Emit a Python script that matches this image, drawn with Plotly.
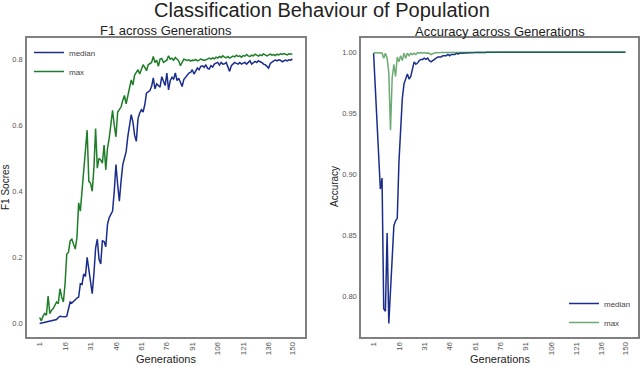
import plotly.graph_objects as go

# generaciones 1..150
generations = list(range(1, 151))

f1_median = [
    0.000, 0.001, 0.002, 0.003, 0.004, 0.005, 0.006, 0.008, 0.009, 0.010,
    0.012, 0.018, 0.022, 0.021, 0.020, 0.020, 0.022, 0.045, 0.065, 0.062,
    0.066, 0.072, 0.077, 0.080, 0.120, 0.118, 0.150, 0.142, 0.200, 0.165,
    0.120, 0.090, 0.150, 0.228, 0.255, 0.195, 0.180, 0.250, 0.248, 0.232,
    0.300, 0.320, 0.330, 0.340, 0.400, 0.481, 0.420, 0.370, 0.430, 0.480,
    0.500, 0.520, 0.566, 0.600, 0.632, 0.610, 0.570, 0.551, 0.620, 0.637,
    0.647, 0.640, 0.662, 0.697, 0.700, 0.705, 0.717, 0.743, 0.710, 0.725,
    0.720, 0.715, 0.747, 0.730, 0.720, 0.758, 0.707, 0.735, 0.745, 0.740,
    0.758, 0.735, 0.742, 0.730, 0.717, 0.738, 0.745, 0.750, 0.758, 0.760,
    0.768, 0.755, 0.765, 0.773, 0.768, 0.778, 0.780, 0.775, 0.783, 0.772,
    0.770, 0.780, 0.776, 0.785, 0.788, 0.790, 0.782, 0.790, 0.785, 0.786,
    0.790, 0.775, 0.763, 0.780, 0.785, 0.790, 0.787, 0.785, 0.790, 0.785,
    0.788, 0.790, 0.785, 0.790, 0.795, 0.785, 0.790, 0.793, 0.790, 0.795,
    0.792, 0.790, 0.785, 0.783, 0.778, 0.773, 0.787, 0.792, 0.795, 0.797,
    0.795, 0.798, 0.797, 0.792, 0.794, 0.797, 0.795, 0.798, 0.797, 0.801,
]

f1_max = [
    0.018, 0.008, 0.022, 0.030, 0.025, 0.083, 0.030, 0.040, 0.045, 0.055,
    0.065, 0.060, 0.105, 0.080, 0.065, 0.120, 0.210, 0.215, 0.250, 0.255,
    0.240, 0.225, 0.260, 0.365, 0.340, 0.400, 0.470, 0.520, 0.585, 0.430,
    0.425, 0.400, 0.470, 0.590, 0.470, 0.500, 0.495, 0.485, 0.540, 0.465,
    0.530, 0.560, 0.600, 0.645, 0.600, 0.565, 0.640, 0.650, 0.655, 0.675,
    0.690, 0.665, 0.692, 0.717, 0.737, 0.722, 0.752, 0.760, 0.768, 0.755,
    0.770, 0.783, 0.775, 0.765, 0.783, 0.787, 0.790, 0.808, 0.790, 0.797,
    0.778, 0.800, 0.802, 0.790, 0.795, 0.797, 0.810, 0.800, 0.803, 0.797,
    0.805, 0.800, 0.795, 0.780, 0.790, 0.800, 0.798, 0.796, 0.798, 0.794,
    0.797, 0.796, 0.799, 0.795, 0.797, 0.800, 0.798, 0.796, 0.798, 0.800,
    0.803, 0.800, 0.804, 0.801, 0.806, 0.803, 0.808, 0.805, 0.810, 0.806,
    0.804, 0.808, 0.803, 0.806, 0.809, 0.807, 0.812, 0.808, 0.810, 0.806,
    0.811, 0.809, 0.814, 0.810, 0.808, 0.812, 0.810, 0.815, 0.811, 0.809,
    0.813, 0.811, 0.816, 0.812, 0.810, 0.813, 0.815, 0.812, 0.814, 0.811,
    0.815, 0.813, 0.816, 0.814, 0.817, 0.815, 0.813, 0.816, 0.815, 0.815,
]

acc_median = [
    0.9990, 0.9700, 0.9350, 0.9050, 0.8880, 0.8970, 0.7900, 0.7880, 0.8520, 0.7780,
    0.8050, 0.8370, 0.8580, 0.8620, 0.8640, 0.9100, 0.9400, 0.9620, 0.9740, 0.9790,
    0.9820, 0.9780, 0.9800, 0.9860, 0.9920, 0.9900, 0.9910, 0.9930, 0.9940, 0.9940,
    0.9950, 0.9940, 0.9950, 0.9930, 0.9920, 0.9930, 0.9940, 0.9950, 0.9960, 0.9960,
    0.9960, 0.9970, 0.9970, 0.9970, 0.9980, 0.9970, 0.9980, 0.9980, 0.9980, 0.9990,
    0.9985, 0.9990, 0.9990, 0.9992, 0.9994, 0.9993, 0.9995, 0.9995, 0.9996, 0.9996,
    0.9996, 0.9997, 0.9996, 0.9997, 0.9997, 0.9998, 0.9997, 0.9998, 0.9998, 0.9998,
    0.9998, 0.9998, 0.9999, 0.9998, 0.9999, 0.9999, 0.9999, 0.9999, 0.9999, 0.9999,
    0.9999, 0.9999, 0.9999, 0.9999, 0.9999, 0.9999, 0.9999, 0.9999, 0.9999, 0.9999,
    0.9999, 0.9999, 0.9999, 0.9999, 0.9999, 0.9999, 0.9999, 0.9999, 0.9999, 0.9999,
    0.9999, 0.9999, 0.9999, 0.9999, 0.9999, 0.9999, 0.9999, 0.9999, 0.9999, 0.9999,
    0.9999, 0.9999, 0.9999, 0.9999, 0.9999, 0.9999, 0.9999, 0.9999, 0.9999, 0.9999,
    0.9999, 0.9999, 0.9999, 0.9999, 0.9999, 0.9999, 0.9999, 0.9999, 0.9999, 0.9999,
    0.9999, 0.9999, 0.9999, 0.9999, 0.9999, 0.9999, 0.9999, 0.9999, 0.9999, 0.9999,
    0.9999, 0.9999, 0.9999, 0.9999, 0.9999, 0.9999, 0.9999, 0.9999, 0.9999, 0.9999,
]

acc_max = [
    0.9995, 0.9995, 0.9994, 0.9993, 0.9994, 0.9993, 0.9950, 0.9990, 0.9950, 0.9830,
    0.9360, 0.9790, 0.9900, 0.9800, 0.9960, 0.9920, 0.9970, 0.9930, 0.9990, 0.9950,
    0.9990, 0.9970, 0.9990, 0.9980, 0.9990, 0.9980, 0.9995, 0.9990, 0.9995, 0.9990,
    0.9995, 0.9990, 0.9992, 0.9990, 0.9980, 0.9990, 0.9993, 0.9995, 0.9994, 0.9996,
    0.9996, 0.9997, 0.9997, 0.9997, 0.9998, 0.9997, 0.9998, 0.9998, 0.9998, 0.9999,
    0.9999, 0.9999, 0.9999, 0.9999, 0.9999, 0.9999, 0.9999, 0.9999, 0.9999, 0.9999,
    0.9999, 0.9999, 0.9999, 0.9999, 0.9999, 0.9999, 0.9999, 0.9999, 0.9999, 0.9999,
    0.9999, 0.9999, 0.9999, 0.9999, 0.9999, 0.9999, 0.9999, 0.9999, 0.9999, 0.9999,
    0.9999, 0.9999, 0.9999, 0.9999, 0.9999, 0.9999, 0.9999, 0.9999, 0.9999, 0.9999,
    0.9999, 0.9999, 0.9999, 0.9999, 0.9999, 0.9999, 0.9999, 0.9999, 0.9999, 0.9999,
    0.9999, 0.9999, 0.9999, 0.9999, 0.9999, 0.9999, 0.9999, 0.9999, 0.9999, 0.9999,
    0.9999, 0.9999, 0.9999, 0.9999, 0.9999, 0.9999, 0.9999, 0.9999, 0.9999, 0.9999,
    0.9999, 0.9999, 0.9999, 0.9999, 0.9999, 0.9999, 0.9999, 0.9999, 0.9999, 0.9999,
    0.9999, 0.9999, 0.9999, 0.9999, 0.9999, 0.9999, 0.9999, 0.9999, 0.9999, 0.9999,
    0.9999, 0.9999, 0.9999, 0.9999, 0.9999, 0.9999, 0.9999, 0.9999, 0.9999, 0.9999,
]

gen_ticks = [1, 16, 31, 46, 61, 76, 91, 106, 121, 136, 150]

AZUL = "#1a2d8c"
VERDE = "#1e7d28"
VERDE_CLARO = "rgba(30,125,40,0.65)"
FUENTE = "Liberation Sans, Arial, sans-serif"

ANCHO, ALTO = 640, 366


def px_x(p):
    return p / ANCHO


def px_y(p):
    return 1 - p / ALTO


fig = go.Figure()

# panel izquierdo: F1
fig.add_trace(go.Scatter(x=generations, y=f1_median, mode="lines", name="median",
                         line=dict(color=AZUL, width=1.5), xaxis="x", yaxis="y", legend="legend"))
fig.add_trace(go.Scatter(x=generations, y=f1_max, mode="lines", name="max",
                         line=dict(color=VERDE, width=1.5), xaxis="x", yaxis="y", legend="legend"))

# panel derecho: accuracy
fig.add_trace(go.Scatter(x=generations, y=acc_median, mode="lines", name="median",
                         line=dict(color=AZUL, width=1.5), xaxis="x2", yaxis="y2", legend="legend2"))
fig.add_trace(go.Scatter(x=generations, y=acc_max, mode="lines", name="max",
                         line=dict(color=VERDE_CLARO, width=1.5), xaxis="x2", yaxis="y2", legend="legend2"))

eje_x = dict(range=[-6.45, 157.45], tickvals=gen_ticks, tickangle=-90,
             showgrid=False, zeroline=False, showline=True, mirror=True,
             linecolor="#808080", linewidth=1.5, ticks="",
             tickfont=dict(size=8, color="#555555", family=FUENTE))
eje_y = dict(showgrid=False, zeroline=False, showline=True, mirror=True,
             linecolor="#808080", linewidth=1.5, ticks="", ticklabelstandoff=1,
             tickfont=dict(size=7.5, color="#555555", family=FUENTE))

dom_y = [px_y(337), px_y(38)]

fig.update_layout(
    width=ANCHO, height=ALTO,
    margin=dict(l=0, r=0, t=0, b=0),
    paper_bgcolor="white", plot_bgcolor="white",
    font=dict(family=FUENTE, color="#222222"),
    xaxis=dict(domain=[px_x(27), px_x(305)], anchor="y", **eje_x),
    yaxis=dict(domain=dom_y, anchor="x", range=[-0.041, 0.864],
               tickvals=[0.0, 0.2, 0.4, 0.6, 0.8], tickformat=".1f", **eje_y),
    xaxis2=dict(domain=[px_x(361), px_x(638)], anchor="y2", **eje_x),
    yaxis2=dict(domain=dom_y, anchor="x2", range=[0.767, 1.0115],
                tickvals=[0.80, 0.85, 0.90, 0.95, 1.00], tickformat=".2f", **eje_y),
    legend=dict(x=px_x(29), y=px_y(38), xanchor="left", yanchor="top",
                bgcolor="rgba(0,0,0,0)", itemwidth=30, tracegroupgap=0,
                font=dict(size=8, color="#444444")),
    legend2=dict(x=px_x(636), y=px_y(337), xanchor="right", yanchor="bottom",
                 bgcolor="rgba(0,0,0,0)", itemwidth=30, tracegroupgap=0,
                 font=dict(size=8, color="#444444")),
    showlegend=True,
)

textos = [
    dict(text="Classification Behaviour of Population", x=322, y=10, size=20),
    dict(text="F1 across Generations", x=166, y=31, size=13),
    dict(text="Accuracy across Generations", x=500, y=32, size=13),
    dict(text="Generations", x=166, y=359, size=11),
    dict(text="Generations", x=500, y=359, size=11),
]
for t in textos:
    fig.add_annotation(text=t["text"], x=px_x(t["x"]), y=px_y(t["y"]), xref="paper", yref="paper",
                       xanchor="center", yanchor="middle", showarrow=False,
                       font=dict(size=t["size"], color="#222222", family=FUENTE))

# titulos de eje y, rotados
fig.add_annotation(text="F1 Socres", x=px_x(5), y=px_y(187), xref="paper", yref="paper",
                   textangle=-90, showarrow=False, xanchor="center", yanchor="middle",
                   font=dict(size=10, color="#222222", family=FUENTE))
fig.add_annotation(text="Accuracy", x=px_x(334), y=px_y(187), xref="paper", yref="paper",
                   textangle=-90, showarrow=False, xanchor="center", yanchor="middle",
                   font=dict(size=10, color="#222222", family=FUENTE))

# quitar el margen por defecto del body para que la figura empiece en (0, 0)
fig.write_html("out.html", config={"displayModeBar": False},
               post_script="document.body.style.margin='0';")
